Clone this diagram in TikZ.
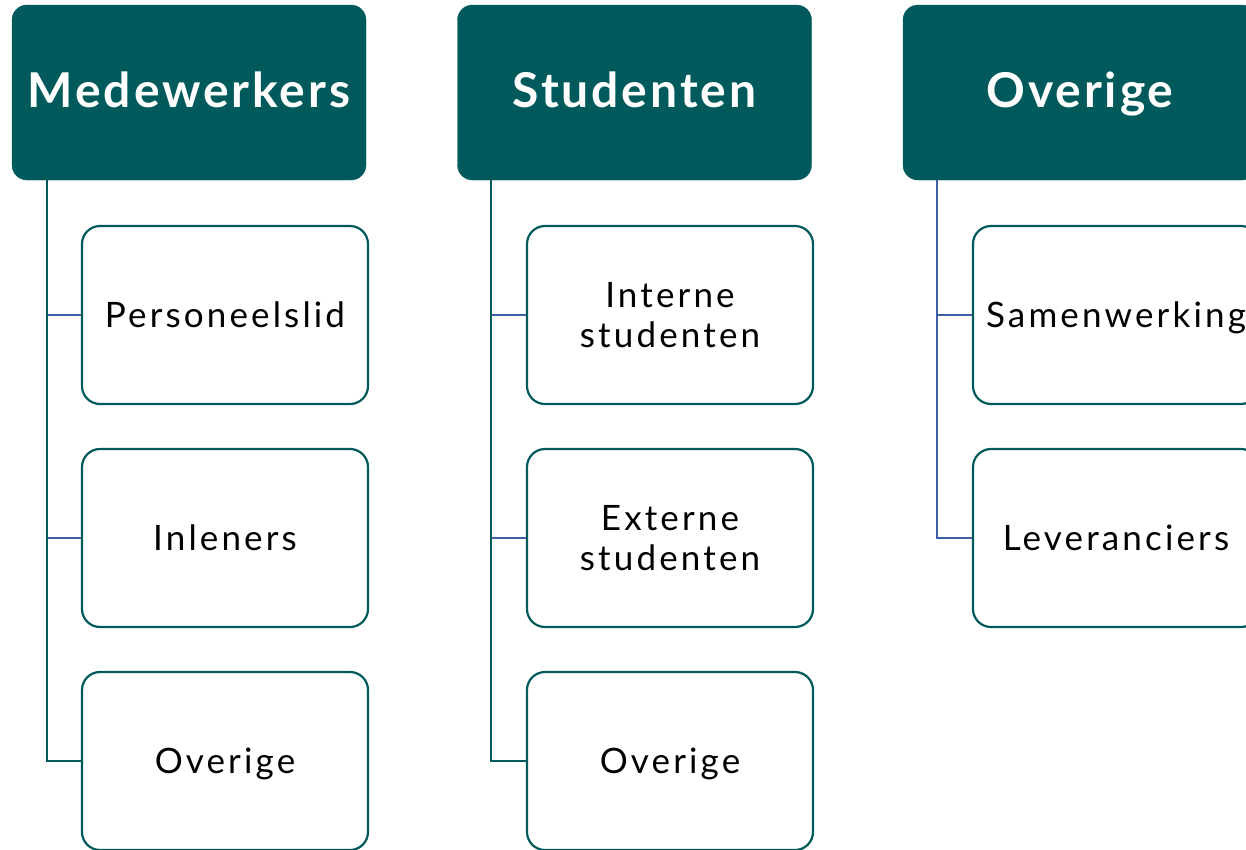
\documentclass[tikz,border=0pt]{standalone}
\usepackage{fontspec}
\setmainfont{Lato}
\newfontfamily\headfont[LetterSpace=6]{Lato}
\newfontfamily\itemfont[LetterSpace=9]{Lato}
\usepackage{tikz}
\usetikzlibrary{positioning}
\definecolor{hteal}{RGB}{0,90,91}
\definecolor{lblue}{RGB}{62,94,166}

\begin{document}
\begin{tikzpicture}[x=1pt,y=-1pt,
  head/.style={rectangle,rounded corners=15pt,fill=hteal,draw=hteal,minimum width=354pt,minimum height=175pt,inner sep=0pt,text=white,text height=29pt,text depth=0pt,font=\headfont\fontsize{48}{50}\selectfont\bfseries},
  item/.style={rectangle,rounded corners=18pt,draw=hteal,line width=2.2pt,fill=white,minimum width=286pt,minimum height=178pt,inner sep=0pt,align=center,text height=25pt,text depth=0pt,font=\itemfont\fontsize{35}{40}\selectfont},
  item2/.style={item,text height=65pt},
  linkb/.style={draw=lblue,line width=2pt},
  linkt/.style={draw=hteal,line width=2pt}]
\clip (0,0) rectangle (1246,849);
\useasboundingbox (0,0) rectangle (1246,849);

\node[head] (med) at (189,92.5) {Medewerkers};
\node[head] (stu) at (634.5,92.5) {Studenten};
\node[head] (ove) at (1080,92.5) {Overige};

\node[item] (med1) at (225,315) {Personeelslid};
\node[item] (med2) at (225,538) {Inleners};
\node[item] (med3) at (225,761) {Overige};
\node[item2] (stu1) at (670,315) {Interne\\studenten};
\node[item2] (stu2) at (670,538) {Externe\\studenten};
\node[item] (stu3) at (670,761) {Overige};
\node[item] (ove1) at (1116,315) {Samenwerking};
\node[item] (ove2) at (1116,538) {Leveranciers};

\draw[linkb] ([xshift=35pt]med.south west) |- (med1.west);
\draw[linkb] ([xshift=35pt]med.south west) |- (med2.west);
\draw[linkt] ([xshift=35pt]med.south west) |- (med3.west);
\draw[linkb] ([xshift=34pt]stu.south west) |- (stu1.west);
\draw[linkb] ([xshift=34pt]stu.south west) |- (stu2.west);
\draw[linkt] ([xshift=34pt]stu.south west) |- (stu3.west);
\draw[linkb] ([xshift=34pt]ove.south west) |- (ove1.west);
\draw[linkb] ([xshift=34pt]ove.south west) |- (ove2.west);
\end{tikzpicture}
\end{document}
